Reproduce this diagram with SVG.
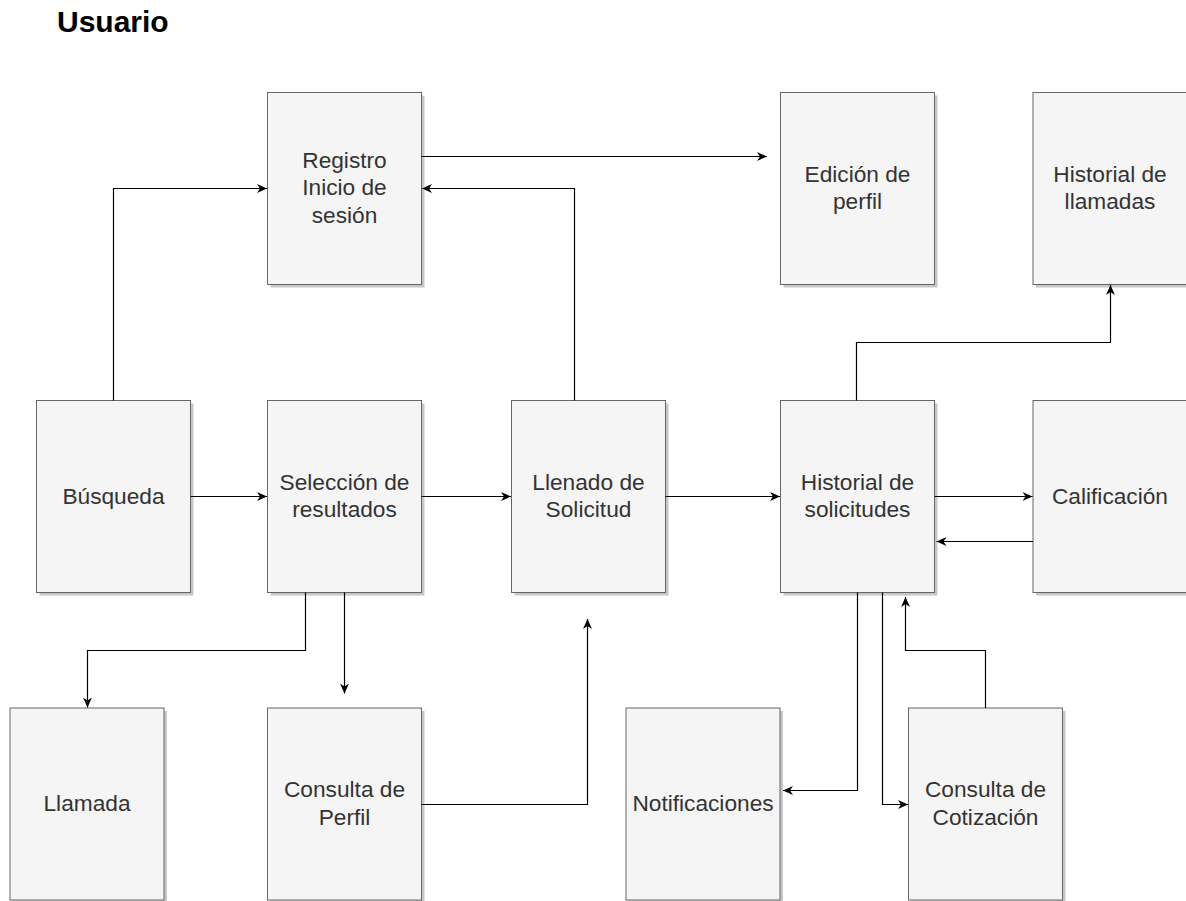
<svg xmlns="http://www.w3.org/2000/svg" width="1186" height="901" viewBox="0 0 1186 901">
<style>
.box{fill:#f5f5f5;stroke:#666666;stroke-width:1}
.sh{fill:#000000;opacity:0.22}
.lbl{font-family:"Liberation Sans",Arial,sans-serif;font-size:22.7px;fill:#333333;text-anchor:middle}
.title{font-family:"Liberation Sans",Arial,sans-serif;font-size:30px;font-weight:bold;fill:#000000}
.edge{fill:none;stroke:#000000;stroke-width:1.2;marker-end:url(#arr)}
</style>
<defs>
<marker id="arr" markerUnits="userSpaceOnUse" viewBox="0 0 10 9" markerWidth="10" markerHeight="9" refX="10" refY="4.5" orient="auto">
<path d="M0,0 L10,4.5 L0,9 L3,4.5 Z" fill="#000000"/>
</marker>
</defs>
<rect width="1186" height="901" fill="#ffffff"/>
<text class="title" x="57" y="32">Usuario</text>

<g id="registro">
<rect class="sh" x="270.5" y="95.5" width="154" height="192"/>
<rect class="box" x="267.5" y="92.5" width="154" height="192"/>
<text class="lbl" x="344.5" y="167.5">Registro</text>
<text class="lbl" x="344.5" y="195">Inicio de</text>
<text class="lbl" x="344.5" y="222.5">sesión</text>
</g>
<g id="edicion">
<rect class="sh" x="783.5" y="95.5" width="154" height="192"/>
<rect class="box" x="780.5" y="92.5" width="154" height="192"/>
<text class="lbl" x="857.5" y="181.5">Edición de</text>
<text class="lbl" x="857.5" y="209">perfil</text>
</g>
<g id="historial-llamadas">
<rect class="sh" x="1036" y="95.5" width="154" height="192"/>
<rect class="box" x="1033" y="92.5" width="154" height="192"/>
<text class="lbl" x="1110" y="181.5">Historial de</text>
<text class="lbl" x="1110" y="209">llamadas</text>
</g>

<g id="busqueda">
<rect class="sh" x="39.5" y="403.5" width="154" height="192"/>
<rect class="box" x="36.5" y="400.5" width="154" height="192"/>
<text class="lbl" x="113.5" y="503.5">Búsqueda</text>
</g>
<g id="seleccion">
<rect class="sh" x="270.5" y="403.5" width="154" height="192"/>
<rect class="box" x="267.5" y="400.5" width="154" height="192"/>
<text class="lbl" x="344.5" y="489.5">Selección de</text>
<text class="lbl" x="344.5" y="517">resultados</text>
</g>
<g id="llenado">
<rect class="sh" x="514.5" y="403.5" width="154" height="192"/>
<rect class="box" x="511.5" y="400.5" width="154" height="192"/>
<text class="lbl" x="588.5" y="489.5">Llenado de</text>
<text class="lbl" x="588.5" y="517">Solicitud</text>
</g>
<g id="historial-solicitudes">
<rect class="sh" x="783.5" y="403.5" width="154" height="192"/>
<rect class="box" x="780.5" y="400.5" width="154" height="192"/>
<text class="lbl" x="857.5" y="489.5">Historial de</text>
<text class="lbl" x="857.5" y="517">solicitudes</text>
</g>
<g id="calificacion">
<rect class="sh" x="1036" y="403.5" width="154" height="192"/>
<rect class="box" x="1033" y="400.5" width="154" height="192"/>
<text class="lbl" x="1110" y="503.5">Calificación</text>
</g>

<g id="llamada">
<rect class="sh" x="13" y="711" width="154" height="192"/>
<rect class="box" x="10" y="708" width="154" height="192"/>
<text class="lbl" x="87" y="811">Llamada</text>
</g>
<g id="consulta-perfil">
<rect class="sh" x="270.5" y="711" width="154" height="192"/>
<rect class="box" x="267.5" y="708" width="154" height="192"/>
<text class="lbl" x="344.5" y="797">Consulta de</text>
<text class="lbl" x="344.5" y="825">Perfil</text>
</g>
<g id="notificaciones">
<rect class="sh" x="629" y="711" width="154" height="192"/>
<rect class="box" x="626" y="708" width="154" height="192"/>
<text class="lbl" x="703" y="811">Notificaciones</text>
</g>
<g id="consulta-cotizacion">
<rect class="sh" x="911.5" y="711" width="154" height="192"/>
<rect class="box" x="908.5" y="708" width="154" height="192"/>
<text class="lbl" x="985.5" y="797">Consulta de</text>
<text class="lbl" x="985.5" y="825">Cotización</text>
</g>

<g id="connectors">
<path class="edge" d="M421.5,156.5 H767"/>
<path class="edge" d="M113.5,400.5 V188.5 H267"/>
<path class="edge" d="M574.5,400.5 V188.5 H422"/>
<path class="edge" d="M856.5,400.5 V342.5 H1110.5 V285"/>
<path class="edge" d="M190.5,496.5 H267"/>
<path class="edge" d="M421.5,496.5 H511"/>
<path class="edge" d="M665.5,496.5 H780"/>
<path class="edge" d="M934.5,496.5 H1032.5"/>
<path class="edge" d="M1033,541.5 H936.5"/>
<path class="edge" d="M305.5,592.5 V650.5 H87.5 V707.5"/>
<path class="edge" d="M344.5,592.5 V693.5"/>
<path class="edge" d="M421.5,804.5 H587.5 V619"/>
<path class="edge" d="M857.5,592.5 V790.5 H783"/>
<path class="edge" d="M882.5,592.5 V804.5 H908"/>
<path class="edge" d="M985.5,708 V650.5 H905.5 V597"/>
</g>
</svg>
